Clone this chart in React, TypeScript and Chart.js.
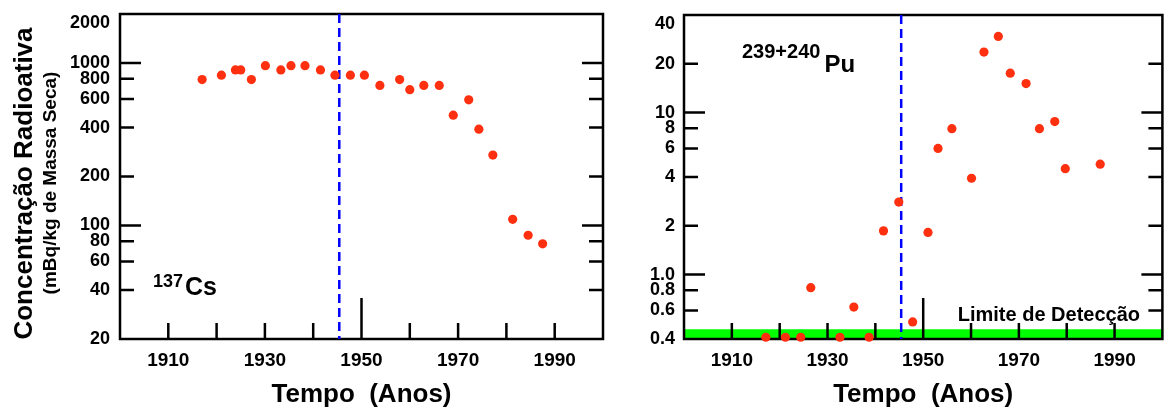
import React, { useEffect, useRef } from 'react';
import { Chart, registerables } from 'chart.js';

Chart.register(...registerables);

const FONT = "'Liberation Sans', Arial, Helvetica, sans-serif";

// Shared x axis (years)
const xTickYears = [1910, 1920, 1930, 1940, 1950, 1960, 1970, 1980, 1990];
const xLabelYears = [1910, 1930, 1950, 1970, 1990];
const markerYear = 1945.4;
const longTickYear = 1950;

// 137Cs
const csYears = [1917.0, 1921.0, 1923.9, 1925.0, 1927.2, 1930.1, 1933.3, 1935.4, 1938.3, 1941.5, 1944.5, 1947.7, 1950.6, 1953.8, 1957.9, 1960.0, 1962.9, 1966.1, 1969.0, 1972.2, 1974.3, 1977.2, 1981.3, 1984.5, 1987.5];
const csValues = [790, 840, 905, 905, 790, 962, 905, 962, 962, 905, 840, 840, 840, 727, 790, 684, 727, 727, 477, 593, 391, 271, 109, 87, 77];
const csTickValues = [2000, 1000, 800, 600, 400, 200, 100, 80, 60, 40, 20];
const csTickLabels = ['2000', '1000', '800', '600', '400', '200', '100', '80', '60', '40', '20'];
const csMajorTicks = [1000, 100];

// 239+240Pu
const puYears = [1917.1, 1921.2, 1924.4, 1926.5, 1932.6, 1935.5, 1938.7, 1941.7, 1944.9, 1947.8, 1951.0, 1953.1, 1956.0, 1960.1, 1962.7, 1965.7, 1968.2, 1971.5, 1974.3, 1977.5, 1979.7, 1987.0];
const puValues = [0.41, 0.41, 0.41, 0.83, 0.41, 0.63, 0.41, 1.86, 2.8, 0.51, 1.82, 6.0, 7.95, 3.93, 23.6, 29.5, 17.5, 15.1, 7.95, 8.8, 4.5, 4.8];
const puTickValues = [40, 20, 10, 8, 6, 4, 2, 1, 0.8, 0.6, 0.4];
const puTickLabels = ['40', '20', '10', '8', '6', '4', '2', '1.0', '0.8', '0.6', '0.4'];
const puMajorTicks = [10, 1];
const detectionBandTop = 0.46;

const POINT_COLOR = '#ff3010';
const MARKER_COLOR = '#0000ff';
const BAND_COLOR = '#00ff00';

function makeFramePlugin(majors: number[]) {
  return {
    id: 'frameTicks',
    beforeDatasetDraw(chart: any, args: any) {
      if (args.index !== 1) return;
      const { ctx, chartArea: a } = chart;
      const xs = chart.scales.x;
      const ys = chart.scales.y;
      ctx.save();
      ctx.strokeStyle = '#000';
      ctx.lineWidth = 2.5;
      ctx.beginPath();
      for (const t of ys.ticks) {
        if (t.value <= ys.min * 1.0001 || t.value >= ys.max * 0.9999) continue;
        const py = ys.getPixelForValue(t.value);
        const len = majors.includes(t.value) ? 21 : 14;
        ctx.moveTo(a.left, py);
        ctx.lineTo(a.left + len, py);
        ctx.moveTo(a.right, py);
        ctx.lineTo(a.right - len, py);
      }
      for (const t of xs.ticks) {
        const px = xs.getPixelForValue(t.value);
        const len = t.value === longTickYear ? 41 : 16;
        ctx.moveTo(px, a.bottom);
        ctx.lineTo(px, a.bottom - len);
      }
      ctx.stroke();
      ctx.strokeRect(a.left, a.top, a.right - a.left, a.bottom - a.top);
      ctx.restore();
    },
  };
}

function makeTextPlugin(draw: (ctx: CanvasRenderingContext2D) => void) {
  return {
    id: 'texts',
    afterDraw(chart: any) {
      const ctx = chart.ctx as CanvasRenderingContext2D;
      ctx.save();
      ctx.fillStyle = '#000';
      draw(ctx);
      ctx.restore();
    },
  };
}

function buildConfig(p: {
  years: number[];
  values: number[];
  yMin: number;
  yMax: number;
  tickValues: number[];
  tickLabels: string[];
  majors: number[];
  yAxisWidth: number;
  yLabelPad: number;
  padRight: number;
  padTop: number;
  band?: number;
  drawTexts: (ctx: CanvasRenderingContext2D) => void;
}): any {
  const datasets: any[] = [
    {
      type: 'scatter',
      data: p.years.map((x, i) => ({ x, y: p.values[i] })),
      backgroundColor: POINT_COLOR,
      borderWidth: 0,
      pointRadius: 4.6,
      pointStyle: 'circle',
      clip: false,
      order: 0,
    },
    {
      type: 'line',
      data: [
        { x: markerYear, y: p.yMax },
        { x: markerYear, y: p.yMin },
      ],
      borderColor: MARKER_COLOR,
      borderWidth: 2.5,
      borderDash: [9, 5],
      pointRadius: 0,
      fill: false,
      order: 1,
    },
  ];
  if (p.band !== undefined) {
    datasets.push({
      type: 'line',
      data: [
        { x: 1900, y: p.band },
        { x: 2000, y: p.band },
      ],
      borderWidth: 0,
      borderColor: BAND_COLOR,
      backgroundColor: BAND_COLOR,
      pointRadius: 0,
      fill: 'start',
      order: 2,
    });
  }
  return {
    type: 'scatter',
    data: { datasets },
    options: {
      animation: false,
      responsive: false,
      devicePixelRatio: 1,
      layout: { padding: { top: p.padTop, right: p.padRight, left: 0, bottom: 0 } },
      plugins: { legend: { display: false }, tooltip: { enabled: false } },
      scales: {
        x: {
          type: 'linear',
          min: 1900,
          max: 2000,
          grid: { display: false, drawTicks: false },
          border: { display: false },
          afterBuildTicks: (s: any) => {
            s.ticks = xTickYears.map((v) => ({ value: v }));
          },
          afterFit: (s: any) => {
            s.height = 71;
            s.paddingLeft = 0;
            s.paddingRight = 0;
          },
          ticks: {
            autoSkip: false,
            maxRotation: 0,
            padding: 10,
            color: '#000',
            font: { family: FONT, size: 19, weight: 'bold' },
            callback: (v: number) => (xLabelYears.includes(v) ? String(v) : ''),
          },
          title: {
            display: true,
            text: 'Tempo  (Anos)',
            color: '#000',
            font: { family: FONT, size: 26, weight: 'bold' },
            padding: { top: 0, bottom: 0 },
          },
        },
        y: {
          type: 'logarithmic',
          min: p.yMin,
          max: p.yMax,
          grid: { display: false, drawTicks: false },
          border: { display: false },
          afterBuildTicks: (s: any) => {
            s.ticks = p.tickValues.map((v) => ({ value: v }));
          },
          afterFit: (s: any) => {
            s.width = p.yAxisWidth;
            s.paddingTop = 0;
            s.paddingBottom = 0;
          },
          ticks: {
            autoSkip: false,
            padding: p.yLabelPad,
            color: '#000',
            font: (c: any) => ({ family: FONT, size: 18, weight: 'bold', lineHeight: c.index === 0 ? 1.0 : 1.2 }),
            callback: (_v: number, i: number) => (i === 0 ? ['', p.tickLabels[i]] : p.tickLabels[i]),
          },
        },
      },
    },
    plugins: [makeFramePlugin(p.majors), makeTextPlugin(p.drawTexts)],
  };
}

function drawCsTexts(ctx: CanvasRenderingContext2D) {
  // Y axis titles
  ctx.save();
  ctx.translate(32, 183.5);
  ctx.rotate(-Math.PI / 2);
  ctx.textAlign = 'center';
  ctx.textBaseline = 'alphabetic';
  ctx.font = `bold 26px ${FONT}`;
  ctx.fillText('Concentração Radioativa', 0, 0);
  ctx.restore();
  ctx.save();
  ctx.translate(56, 183);
  ctx.rotate(-Math.PI / 2);
  ctx.textAlign = 'center';
  ctx.textBaseline = 'alphabetic';
  ctx.font = `bold 19px ${FONT}`;
  ctx.fillText('(mBq/kg de Massa Seca)', 0, 0);
  ctx.restore();
  // Isotope label
  ctx.textAlign = 'left';
  ctx.textBaseline = 'alphabetic';
  ctx.font = `bold 18px ${FONT}`;
  ctx.fillText('137', 153, 287);
  const w = ctx.measureText('137').width;
  ctx.font = `bold 25px ${FONT}`;
  ctx.fillText('Cs', 153 + w + 2, 295);
}

function drawPuTexts(ctx: CanvasRenderingContext2D) {
  ctx.textAlign = 'left';
  ctx.textBaseline = 'alphabetic';
  ctx.font = `bold 20px ${FONT}`;
  ctx.fillText('239+240', 122, 58);
  const w = ctx.measureText('239+240').width;
  ctx.font = `bold 24px ${FONT}`;
  ctx.fillText('Pu', 122 + w + 4, 72);
  ctx.textAlign = 'right';
  ctx.font = `bold 20px ${FONT}`;
  ctx.fillText('Limite de Detecção', 520, 321);
}

export default function App() {
  const leftRef = useRef<HTMLCanvasElement>(null);
  const rightRef = useRef<HTMLCanvasElement>(null);

  useEffect(() => {
    const c1 = new Chart(
      leftRef.current as HTMLCanvasElement,
      buildConfig({
        years: csYears,
        values: csValues,
        yMin: 20,
        yMax: 2000,
        tickValues: csTickValues,
        tickLabels: csTickLabels,
        majors: csMajorTicks,
        yAxisWidth: 120,
        yLabelPad: 10,
        padRight: 17,
        padTop: 14,
        drawTexts: drawCsTexts,
      })
    );
    const c2 = new Chart(
      rightRef.current as HTMLCanvasElement,
      buildConfig({
        years: puYears,
        values: puValues,
        yMin: 0.4,
        yMax: 40,
        tickValues: puTickValues,
        tickLabels: puTickLabels,
        majors: puMajorTicks,
        yAxisWidth: 64,
        yLabelPad: 9,
        padRight: 1.5,
        padTop: 15,
        band: detectionBandTop,
        drawTexts: drawPuTexts,
      })
    );
    return () => {
      c1.destroy();
      c2.destroy();
    };
  }, []);

  return (
    <div style={{ position: 'absolute', left: 0, top: 0, width: 1167, height: 410, background: '#ffffff' }}>
      <canvas ref={leftRef} width={620} height={410} style={{ position: 'absolute', left: 0, top: 0 }} />
      <canvas ref={rightRef} width={547} height={410} style={{ position: 'absolute', left: 620, top: 0 }} />
    </div>
  );
}
